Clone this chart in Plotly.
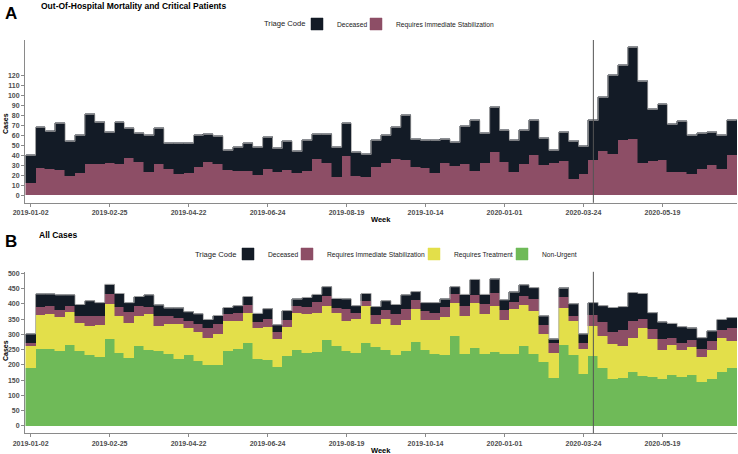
import numpy as np
import plotly.graph_objects as go

# ---------------- data ----------------
tick_weeks = [0, 8, 16, 24, 32, 40, 48, 56, 64]
tick_labels = ["2019-01-02", "2019-02-25", "2019-04-22", "2019-06-24", "2019-08-19",
               "2019-10-14", "2020-01-01", "2020-03-24", "2020-05-19"]
marker_week = 57  # vertical reference line (week index)

deceased = [28, 41, 38, 47, 35, 38, 50, 42, 31, 42,
            30, 29, 37, 36, 26, 31, 30, 32, 28, 28,
            20, 24, 28, 28, 32, 24, 29, 22, 31, 25,
            29, 30, 33, 24, 23, 27, 28, 32, 45, 28,
            28, 33, 24, 24, 38, 51, 30, 45, 32, 32,
            34, 35, 27, 13, 29, 38, 28, 40, 54, 79,
            75, 92, 82, 52, 56, 48, 51, 39, 36, 33, 34, 35]
immediate = [12, 27, 26, 25, 19, 22, 31, 31, 32, 31,
             37, 33, 23, 31, 26, 21, 22, 28, 33, 31,
             25, 24, 24, 20, 26, 23, 25, 22, 24, 36,
             32, 18, 39, 19, 18, 28, 32, 36, 35, 28,
             27, 22, 32, 29, 31, 24, 32, 43, 33, 23,
             31, 40, 30, 32, 34, 16, 21, 35, 44, 41,
             55, 56, 32, 34, 35, 23, 23, 21, 26, 30, 26, 40]
treatment = [70, 111, 115, 110, 110, 93, 96, 104, 116, 122,
             114, 100, 121, 82, 97, 113, 88, 92, 86, 101,
             98, 93, 101, 102, 110, 90, 94, 121, 126, 128,
             113, 107, 98, 110, 122, 78, 101, 97, 103, 108,
             100, 113, 126, 107, 126, 148, 133, 150, 113, 145,
             134, 142, 94, 81, 121, 113, 82, 100, 107, 115,
             103, 111, 156, 123, 95, 98, 89, 93, 82, 95, 113, 91]
non_urgent = [191, 253, 253, 247, 265, 245, 233, 227, 285, 239,
              223, 262, 248, 247, 237, 221, 234, 215, 202, 202,
              245, 253, 271, 219, 216, 194, 230, 250, 240, 242,
              282, 263, 246, 241, 271, 258, 249, 233, 246, 276,
              249, 236, 233, 296, 236, 257, 236, 243, 235, 238,
              263, 236, 209, 158, 267, 233, 170, 229, 189, 153,
              158, 178, 164, 162, 154, 167, 162, 167, 145, 153, 176, 189]

weeks = np.arange(len(deceased))

COL = {
    "Deceased": "#131b26",
    "Requires Immediate Stabilization": "#8d4e66",
    "Requires Treatment": "#e3df4a",
    "Non-Urgent": "#6fba58",
}
# approximate legend label widths (px) used to keep legend entries compact
LEG_W = {"Deceased": 30, "Requires Immediate Stabilization": 98,
         "Requires Treatment": 59, "Non-Urgent": 35}

W, H = 738, 454
FONT = "Liberation Sans, Arial, sans-serif"

def px_x(p):
    return p / W

def px_y(p):
    return 1 - p / H

fig = go.Figure()

# ---- Panel A ----
seriesA = [("Requires Immediate Stabilization", immediate), ("Deceased", deceased)]
for i, (name, vals) in enumerate(seriesA):
    lw = LEG_W[name] if i == 0 else LEG_W[name] - 16
    fig.add_trace(go.Bar(x=weeks, y=vals, name=name, marker_color=COL[name],
                         marker_line_color=COL[name], marker_line_width=0.5,
                         legendwidth=lw, xaxis="x", yaxis="y", legend="legend"))
totA = np.array(deceased) + np.array(immediate)
fig.add_trace(go.Scatter(x=np.append(weeks, weeks[-1] + 1) - 0.5, y=np.append(totA, totA[-1]),
                         mode="lines", line=dict(shape="hv", color="#a5a5a5", width=0.8),
                         showlegend=False, hoverinfo="skip", xaxis="x", yaxis="y"))

# ---- Panel B ----
seriesB = [("Non-Urgent", non_urgent), ("Requires Treatment", treatment),
           ("Requires Immediate Stabilization", immediate), ("Deceased", deceased)]
for i, (name, vals) in enumerate(seriesB):
    lw = LEG_W[name] if i == 0 else LEG_W[name] - 16
    fig.add_trace(go.Bar(x=weeks, y=vals, name=name, marker_color=COL[name],
                         marker_line_color=COL[name], marker_line_width=0.5,
                         legendwidth=lw, xaxis="x2", yaxis="y2", legend="legend2"))
totB = np.array(deceased) + np.array(immediate) + np.array(treatment) + np.array(non_urgent)
fig.add_trace(go.Scatter(x=np.append(weeks, weeks[-1] + 1) - 0.5, y=np.append(totB, totB[-1]),
                         mode="lines", line=dict(shape="hv", color="#a5a5a5", width=0.8),
                         showlegend=False, hoverinfo="skip", xaxis="x2", yaxis="y2"))

axis_common = dict(showline=True, linecolor="#8a8a8a", linewidth=1, ticks="outside",
                   ticklen=3, tickcolor="#8a8a8a", showgrid=False, zeroline=False,
                   automargin=False,
                   tickfont=dict(family=FONT, size=7, color="#4d4d4d", weight="bold"))

xr = [-0.57, len(weeks) - 0.45]
xdom = [px_x(25), px_x(737)]

legend_common = dict(orientation="h", xanchor="left", yanchor="middle",
                     traceorder="reversed", itemwidth=30,
                     font=dict(size=6.7, color="#222"), bgcolor="rgba(0,0,0,0)")

fig.update_layout(
    width=W, height=H, margin=dict(l=0, r=0, t=0, b=0, autoexpand=False),
    paper_bgcolor="white", plot_bgcolor="white",
    barmode="stack", bargap=0,
    font=dict(family=FONT, color="#222"),
    xaxis=dict(domain=xdom, range=xr, anchor="y", tickvals=tick_weeks, ticktext=tick_labels, **axis_common),
    yaxis=dict(domain=[px_y(202.8), px_y(40)], range=[-7.4, 155.4], anchor="x",
               tickvals=list(range(0, 121, 10)), **axis_common),
    xaxis2=dict(domain=xdom, range=xr, anchor="y2", tickvals=tick_weeks, ticktext=tick_labels, **axis_common),
    yaxis2=dict(domain=[px_y(433.3), px_y(271.8)], range=[-24, 505], anchor="x2",
                tickvals=list(range(0, 501, 50)), **axis_common),
    legend=dict(x=px_x(297), y=px_y(24), **legend_common),
    legend2=dict(x=px_x(228), y=px_y(254), **legend_common),
    shapes=[
        dict(type="line", xref="x", yref="y domain", x0=marker_week, x1=marker_week, y0=0, y1=1,
             line=dict(color="#555", width=1), layer="above"),
        dict(type="line", xref="x2", yref="y2 domain", x0=marker_week, x1=marker_week, y0=0, y1=1,
             line=dict(color="#555", width=1), layer="above"),
    ],
    annotations=[
        dict(text="<b>A</b>", x=px_x(3), y=px_y(13), xref="paper", yref="paper",
             xanchor="left", yanchor="middle", showarrow=False, font=dict(size=17, color="#000")),
        dict(text="<b>Out-Of-Hospital Mortality and Critical Patients</b>", x=px_x(39), y=px_y(6),
             xref="paper", yref="paper", xanchor="left", yanchor="middle", showarrow=False,
             font=dict(size=8.5, color="#000")),
        dict(text="<b>B</b>", x=px_x(3), y=px_y(241), xref="paper", yref="paper",
             xanchor="left", yanchor="middle", showarrow=False, font=dict(size=17, color="#000")),
        dict(text="<b>All Cases</b>", x=px_x(37), y=px_y(235), xref="paper", yref="paper",
             xanchor="left", yanchor="middle", showarrow=False, font=dict(size=8.5, color="#000")),
        dict(text="Triage Code", x=px_x(308), y=px_y(24), xref="paper", yref="paper",
             xanchor="right", yanchor="middle", showarrow=False, font=dict(size=7.6, color="#222")),
        dict(text="Triage Code", x=px_x(239), y=px_y(254), xref="paper", yref="paper",
             xanchor="right", yanchor="middle", showarrow=False, font=dict(size=7.6, color="#222")),
        dict(text="<b>Cases</b>", x=px_x(5), y=px_y(124), xref="paper", yref="paper",
             xanchor="center", yanchor="middle", textangle=-90, showarrow=False,
             font=dict(size=7, color="#000")),
        dict(text="<b>Cases</b>", x=px_x(5), y=px_y(351), xref="paper", yref="paper",
             xanchor="center", yanchor="middle", textangle=-90, showarrow=False,
             font=dict(size=7, color="#000")),
        dict(text="<b>Week</b>", x=px_x(381), y=px_y(219), xref="paper", yref="paper",
             xanchor="center", yanchor="middle", showarrow=False, font=dict(size=7.5, color="#000")),
        dict(text="<b>Week</b>", x=px_x(381), y=px_y(450), xref="paper", yref="paper",
             xanchor="center", yanchor="middle", showarrow=False, font=dict(size=7.5, color="#000")),
    ],
)

fig.write_html("out.html", config={"displayModeBar": False},
               post_script="document.body.style.margin='0px';")
